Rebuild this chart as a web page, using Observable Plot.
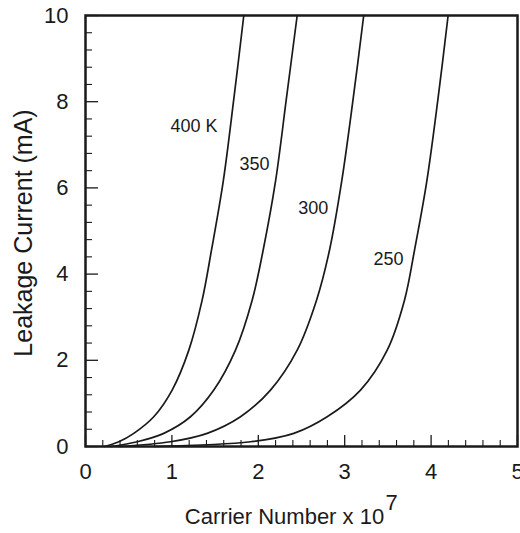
<!DOCTYPE html>
<html><head><meta charset="utf-8">
<script src="https://cdn.jsdelivr.net/npm/d3@7"></script>
<script src="https://cdn.jsdelivr.net/npm/@observablehq/plot@0.6"></script>
<style>body{margin:0;background:#fff} svg{font-family:"Liberation Sans",Arial,sans-serif}</style>
</head><body><div id="chart"></div>
<script>
// Carrier number (x 10^7) and leakage current (mA) for each temperature
const x400 = [0.22, 0.386, 0.559, 0.79, 1.003, 1.196, 1.35, 1.458, 1.594, 1.717, 1.832];
const y400 = [0, 0.11, 0.305, 0.69, 1.309, 2.236, 3.395, 4.554, 6.15, 8.07, 10];
const x350 = [0.3, 0.6, 0.906, 1.215, 1.485, 1.736, 1.929, 2.056, 2.199, 2.325, 2.45];
const y350 = [0, 0.11, 0.305, 0.69, 1.309, 2.236, 3.395, 4.554, 6.15, 8.07, 10];
const x300 = [0.4, 0.984, 1.408, 1.794, 2.141, 2.45, 2.674, 2.824, 2.965, 3.098, 3.22];
const y300 = [0, 0.11, 0.305, 0.69, 1.309, 2.236, 3.395, 4.554, 6.15, 8.07, 10];
const x250 = [0.8, 1.91, 2.411, 2.797, 3.183, 3.492, 3.692, 3.808, 3.95, 4.08, 4.197];
const y250 = [0, 0.11, 0.305, 0.69, 1.309, 2.236, 3.395, 4.554, 6.15, 8.07, 10];

const temps = ["400", "350", "300", "250"];
const xs = [x400, x350, x300, x250];
const ys = [y400, y350, y300, y250];

const labelText = ["400 K", "350", "300", "250"];
const labelX = [1.256, 1.956, 2.635, 3.507];
const labelY = [7.43, 6.54, 5.52, 4.345];

const xMajor = [0, 1, 2, 3, 4, 5];
const xMinor = [0.2,0.4,0.6,0.8,1.2,1.4,1.6,1.8,2.2,2.4,2.6,2.8,3.2,3.4,3.6,3.8,4.2,4.4,4.6,4.8];
const yMajor = [0, 2, 4, 6, 8, 10];
const yMinor = [0.4,0.8,1.2,1.6,2.4,2.8,3.2,3.6,4.4,4.8,5.2,5.6,6.4,6.8,7.2,7.6,8.4,8.8,9.2,9.6];

const points = temps.flatMap((t, i) => xs[i].map((x, j) => ({temp: t, x, y: ys[i][j]})));
const labels = labelText.map((t, i) => ({t, x: labelX[i], y: labelY[i]}));

const W = 520, H = 533, mL = 85, mR = 3, mT = 15, mB = 87;
const fw = W - mL - mR, fh = H - mT - mB;
const ink = "#1a1a1a";

const plot = Plot.plot({
  width: W, height: H,
  marginLeft: mL, marginRight: mR, marginTop: mT, marginBottom: mB,
  style: {fontFamily: '"Liberation Sans", Arial, sans-serif', fontSize: "22px", color: ink, background: "white"},
  x: {domain: [0, 5]},
  y: {domain: [0, 10]},
  marks: [
    Plot.tickX(xMajor, {x: d => d, insetTop: fh - 11, stroke: ink, strokeWidth: 1.3}),
    Plot.tickX(xMinor, {x: d => d, insetTop: fh - 6, stroke: ink, strokeWidth: 1.1}),
    Plot.tickY(yMajor, {y: d => d, insetRight: fw - 13, stroke: ink, strokeWidth: 1.3}),
    Plot.tickY(yMinor, {y: d => d, insetRight: fw - 7, stroke: ink, strokeWidth: 1.1}),
    Plot.axisX({ticks: xMajor, tickSize: 0, tickPadding: 17, label: null, fontSize: 22, tickFormat: d => d}),
    Plot.axisY({ticks: yMajor, tickSize: 0, tickPadding: 17, label: null, fontSize: 22, tickFormat: d => d}),
    Plot.line(points, {x: "x", y: "y", z: "temp", stroke: ink, strokeWidth: 1.7, curve: "catmull-rom"}),
    Plot.text(labels, {x: "x", y: "y", text: "t", fontSize: 18, fill: ink}),
    Plot.frame({stroke: ink, strokeWidth: 2.5}),
    Plot.text(["Carrier Number x 10"], {frameAnchor: "bottom", dx: -17, dy: 77, fontSize: 22, fill: ink}),
    Plot.text(["7"], {frameAnchor: "bottom", dx: 90, dy: 63, fontSize: 22, fill: ink}),
    Plot.text(["Leakage Current (mA)"], {frameAnchor: "left", textAnchor: "middle", rotate: -90, dx: -62, dy: 2, fontSize: 25, fill: ink})
  ]
});
document.getElementById("chart").appendChild(plot);
</script>
</body></html>
